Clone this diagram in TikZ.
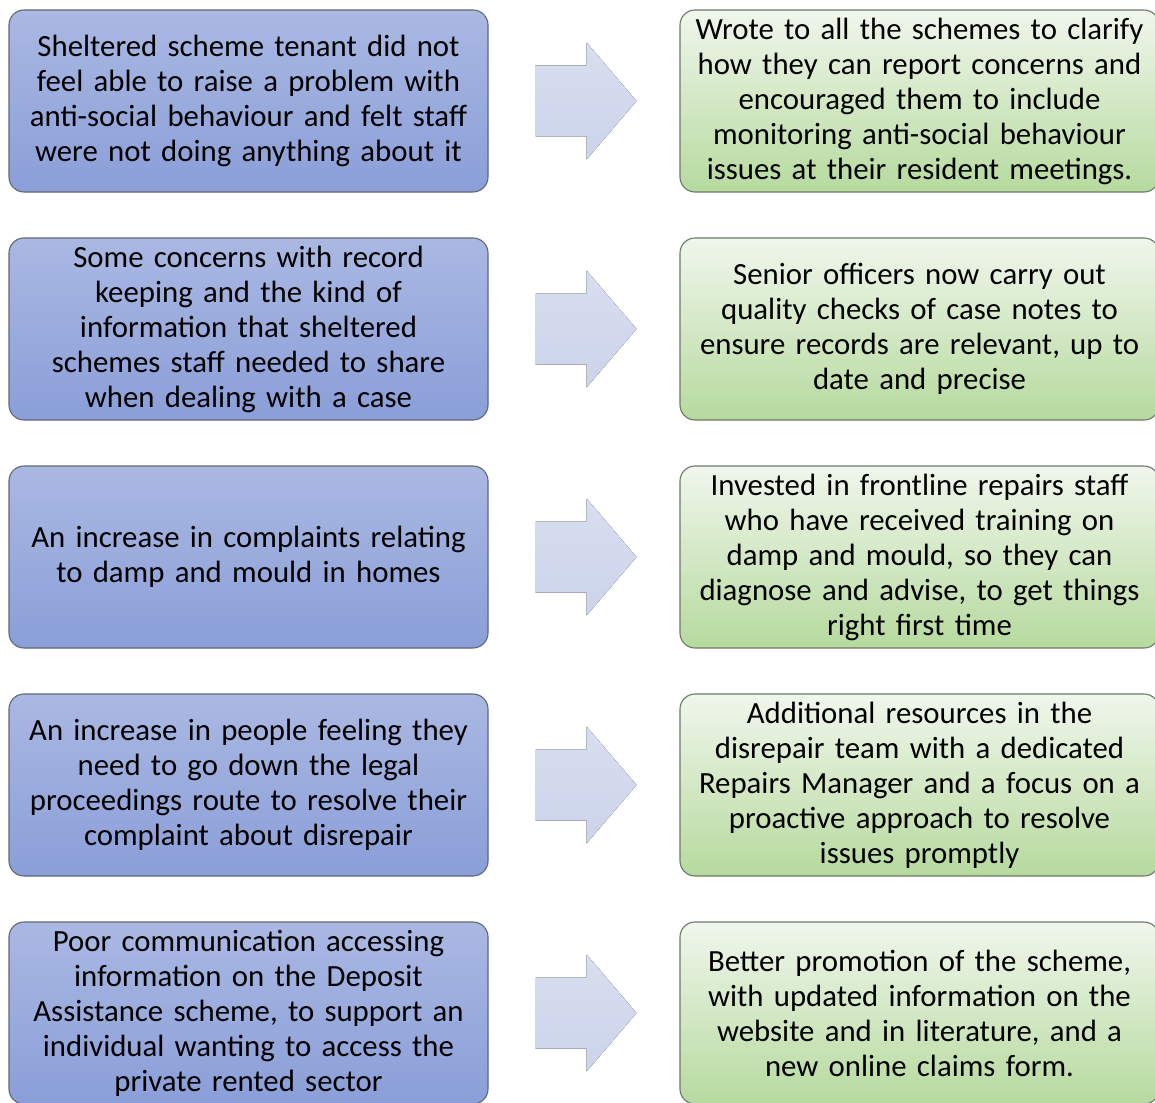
\documentclass[tikz,border=0pt]{standalone}
\usepackage{fontspec}
\setmainfont{Carlito}
\definecolor{probtop}{HTML}{AAB8E2}
\definecolor{probbot}{HTML}{8A9ED8}
\definecolor{probline}{HTML}{5E6878}
\definecolor{acttop}{HTML}{F0F6EC}
\definecolor{actbot}{HTML}{B6DA9E}
\definecolor{actline}{HTML}{6E7868}
\definecolor{arrtop}{HTML}{D8DEEF}
\definecolor{arrbot}{HTML}{CCD4EB}
\begin{document}
\begin{tikzpicture}[x=1pt,y=-1pt,
  card/.style={rounded corners=15pt, minimum width=479pt, minimum height=182pt,
    inner sep=0pt, text width=479pt, align=center, line width=1.1pt,
    font=\fontsize{30.8}{35}\selectfont},
  problem/.style={card, draw=probline, top color=probtop, bottom color=probbot},
  action/.style={card, draw=actline, top color=acttop, bottom color=actbot},
  flowarrow/.style={top color=arrtop, bottom color=arrbot, draw=none}]
\useasboundingbox (0,0) rectangle (1155,1102);

% problems (left column)
\node[problem] (p1) at (248.5,101) {Sheltered scheme tenant did not\\feel able to raise a problem with\\anti-social behaviour and felt staff\\were not doing anything about it};
\node[problem] (p2) at (248.5,329) {Some concerns with record\\keeping and the kind of\\information that sheltered\\schemes staff needed to share\\when dealing with a case};
\node[problem] (p3) at (248.5,557) {An increase in complaints relating\\to damp and mould in homes};
\node[problem] (p4) at (248.5,785) {An increase in people feeling they\\need to go down the legal\\proceedings route to resolve their\\complaint about disrepair};
\node[problem] (p5) at (248.5,1013) {Poor communication accessing\\information on the Deposit\\Assistance scheme, to support an\\individual wanting to access the\\private rented sector};

% actions taken (right column)
\node[action] (a1) at (919.5,101) {Wrote to all the schemes to clarify\\how they can report concerns and\\encouraged them to include\\monitoring anti-social behaviour\\issues at their resident meetings.};
\node[action] (a2) at (919.5,329) {Senior officers now carry out\\quality checks of case notes to\\ensure records are relevant, up to\\date and precise};
\node[action] (a3) at (919.5,557) {Invested in frontline repairs staff\\who have received training on\\damp and mould, so they can\\diagnose and advise, to get things\\right first time};
\node[action] (a4) at (919.5,785) {Additional resources in the\\disrepair team with a dedicated\\Repairs Manager and a focus on a\\proactive approach to resolve\\issues promptly};
\node[action] (a5) at (919.5,1013) {Better promotion of the scheme,\\with updated information on the\\website and in literature, and a\\new online claims form.};

% block arrows between the columns
\foreach \i in {1,...,5}{
  \path (p\i.center) ++(337.5,0) coordinate (m\i);
  \fill[flowarrow] (m\i) ++(-50.5,-35.5) -- ++(51,0) -- ++(0,-23) -- ++(50,58.5)
    -- ++(-50,58.5) -- ++(0,-23) -- ++(-51,0) -- cycle;
}
\end{tikzpicture}
\end{document}
